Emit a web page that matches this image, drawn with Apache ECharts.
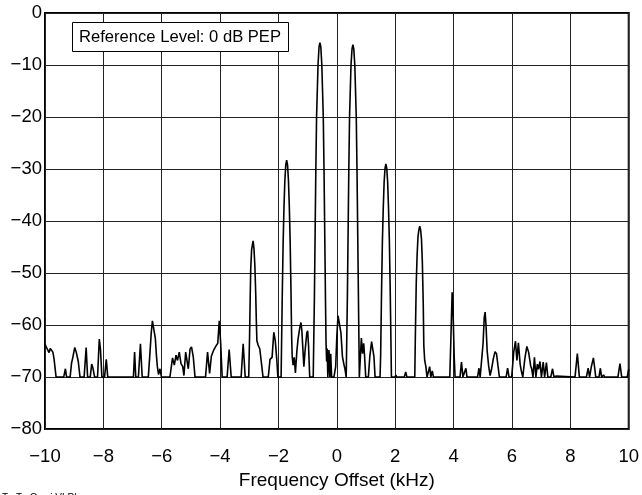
<!DOCTYPE html>
<html>
<head>
<meta charset="utf-8">
<script src="https://cdn.jsdelivr.net/npm/echarts@6/dist/echarts.min.js"></script>
<style>
html,body{margin:0;padding:0;background:#fff;}
#chart{width:642px;height:495px;}
</style>
</head>
<body>
<div id="chart"></div>
<script>
// Frequency offset (kHz) and level (dB) of the measured two-tone spectrum
const spectrumPoints = [
  [-10,-63.6],[-9.96,-64.2],[-9.92,-64],[-9.86,-65.3],[-9.82,-64.5],[-9.77,-64.6],[-9.73,-65.2],[-9.69,-66.5],[-9.62,-70],
  [-9.36,-70],[-9.30,-68.4],[-9.26,-70],
  [-9.14,-70],[-9.09,-67.3],[-9.05,-66.3],[-8.98,-64.3],[-8.93,-65.2],[-8.90,-65.5],[-8.86,-67],[-8.80,-70],
  [-8.66,-70],[-8.59,-64.3],[-8.54,-70],
  [-8.45,-70],[-8.40,-67.5],[-8.36,-68.2],[-8.30,-70],
  [-8.20,-70],[-8.14,-62.7],[-8.10,-64.6],[-8.05,-70],
  [-7.96,-70],[-7.90,-66.6],[-7.85,-70],
  [-6.97,-70],[-6.93,-65.2],[-6.89,-70],
  [-6.80,-70],[-6.73,-63.6],[-6.67,-70],
  [-6.46,-70],[-6.40,-65],[-6.36,-61.5],[-6.32,-59.2],[-6.29,-58.9],[-6.26,-59.5],[-6.22,-62.5],[-6.18,-66],[-6.15,-68],[-6.11,-69.5],[-6.06,-68.4],[-6.01,-70],
  [-5.72,-70],[-5.63,-66.3],[-5.57,-67.7],[-5.51,-65.8],[-5.46,-66.8],[-5.40,-65.2],[-5.34,-67.4],[-5.28,-68],[-5.24,-69.7],[-5.18,-65.2],[-5.13,-65.2],[-5.09,-68.4],[-5.03,-64.6],[-4.98,-64.2],[-4.92,-66.1],[-4.86,-70],
  [-4.50,-70],[-4.43,-65.2],[-4.36,-69.3],[-4.30,-66],[-4.22,-64.8],[-4.14,-64],[-4.08,-63.5],[-4.03,-59.2],[-3.98,-63.5],[-3.93,-70],
  [-3.76,-70],[-3.69,-64.7],[-3.62,-70],
  [-3.28,-70],[-3.21,-63.6],[-3.14,-70],
  [-3.02,-70],[-2.99,-62],[-2.97,-55],[-2.95,-49],[-2.92,-45.5],[-2.87,-43.8],[-2.84,-45.3],[-2.81,-48.5],[-2.78,-54],[-2.76,-59],[-2.74,-63],[-2.70,-63.8],[-2.64,-64.6],[-2.58,-67.5],[-2.53,-70],
  [-2.35,-70],[-2.29,-66.6],[-2.22,-66.2],[-2.16,-61.4],[-2.11,-63],[-2.06,-66.5],[-2.02,-70],
  [-1.91,-70],[-1.90,-66],[-1.87,-54],[-1.84,-44],[-1.81,-37],[-1.78,-32],[-1.75,-29.2],[-1.72,-28.3],[-1.69,-29.2],[-1.66,-32],[-1.63,-37],[-1.60,-44],[-1.57,-54],[-1.55,-62],[-1.53,-66],
  [-1.50,-67.7],[-1.46,-66.2],[-1.42,-69.2],[-1.37,-65],[-1.33,-62.7],[-1.27,-60.5],[-1.23,-59.5],[-1.20,-61],[-1.17,-64],[-1.13,-68],[-1.09,-65],[-1.03,-61.5],[-1.00,-61.1],[-0.97,-64],[-0.93,-70],
  [-0.81,-70],[-0.77,-55],[-0.74,-40],[-0.72,-30],[-0.695,-20],[-0.645,-10],[-0.61,-6.5],[-0.58,-5.7],[-0.55,-6.5],[-0.515,-10],[-0.465,-20],[-0.44,-30],[-0.42,-40],[-0.39,-55],
  [-0.37,-63.5],[-0.35,-67],[-0.33,-64.5],[-0.31,-70],[-0.27,-64.8],[-0.24,-70],[-0.21,-65.5],[-0.18,-70],
  [-0.10,-70],[-0.04,-68],[0.00,-62],[0.04,-58.2],[0.07,-57.9],[0.10,-58.5],[0.14,-61.5],[0.19,-66],[0.24,-67.5],[0.28,-68.5],[0.32,-70],
  [0.33,-70],[0.36,-55],[0.39,-40],[0.41,-30],[0.435,-20],[0.485,-10],[0.52,-6.9],[0.55,-6.1],[0.58,-6.9],[0.615,-10],[0.665,-20],[0.69,-30],[0.71,-40],[0.74,-55],[0.77,-70],
  [0.80,-70],[0.84,-62.5],[0.88,-65.5],[0.92,-63.5],[0.95,-66],[0.99,-70],
  [1.08,-70],[1.13,-66],[1.19,-63.2],[1.23,-63],[1.27,-66],[1.31,-70],
  [1.48,-70],[1.50,-66],[1.53,-54],[1.56,-44],[1.59,-37.5],[1.62,-32.5],[1.65,-29.9],[1.68,-29.0],[1.71,-29.9],[1.74,-32.5],[1.77,-37.5],[1.80,-44],[1.83,-54],[1.86,-66],[1.87,-70],
  [2.00,-70],[2.02,-69.6],[2.05,-70],[2.31,-70],[2.36,-69],[2.40,-70],
  [2.67,-70],[2.69,-62],[2.72,-52],[2.75,-46.5],[2.78,-43],[2.81,-41.7],[2.84,-41.0],[2.87,-41.7],[2.90,-43.5],[2.93,-48],[2.96,-56],[2.98,-64],[3.01,-66.8],[3.05,-68],[3.09,-70],
  [3.13,-70],[3.18,-68],[3.22,-70],[3.27,-68.8],[3.31,-70],
  [3.87,-70],[3.91,-62],[3.95,-53.7],[3.98,-57],[4.02,-66],[4.05,-70],
  [4.22,-70],[4.27,-67.1],[4.32,-70],[4.38,-70],[4.42,-68.3],[4.46,-70],
  [4.82,-70],[4.87,-68.3],[4.91,-70],[4.96,-70],[5.01,-63.5],[5.05,-58.5],[5.08,-57.5],[5.11,-60],[5.15,-65],[5.20,-67.8],[5.25,-69.7],[5.30,-68.5],[5.36,-66.5],[5.42,-65.1],[5.47,-65.5],[5.52,-67.8],[5.57,-70],
  [5.80,-70],[5.85,-68.3],[5.90,-70],
  [5.99,-70],[6.06,-65.2],[6.12,-63.1],[6.17,-66.8],[6.22,-63.4],[6.28,-67.5],[6.32,-68.8],[6.37,-70],[6.44,-66.5],[6.51,-64.1],[6.57,-65.2],[6.64,-67.8],[6.68,-68.5],
  [6.72,-70],[6.77,-66.2],[6.82,-70],[6.87,-67.5],[6.91,-68.5],[6.96,-67],[7.01,-70],[7.07,-67.1],[7.12,-70],[7.18,-67.2],[7.23,-70],[7.33,-70],[7.39,-68.4],[7.44,-70],[7.52,-69.8],[7.55,-70],
  [8.16,-70],[8.24,-65.5],[8.31,-70],
  [8.55,-70],[8.61,-68.3],[8.66,-70],[8.72,-68],[8.79,-66.3],[8.84,-68.5],[8.87,-70],[8.98,-70],[9.03,-68.3],[9.07,-70],[9.14,-69.6],[9.18,-70],
  [9.63,-70],[9.70,-67.4],[9.76,-70],[9.95,-70],[10,-68.5]
];

const xRange = { min: -10, max: 10, step: 2 };
const yRange = { min: -80, max: 0, step: 10 };
const xAxisTitle = 'Frequency Offset (kHz)';
const referenceNote = 'Reference Level: 0 dB PEP';
const footerNote = 'Tx Tx Osc i VLPl';

const minusFmt = v => String(v).replace('-', '\u2212');
const FONT = 'Liberation Sans, Arial, sans-serif';

const chart = echarts.init(document.getElementById('chart'), null, { renderer: 'canvas' });
chart.setOption({
  animation: false,
  backgroundColor: '#fff',
  textStyle: { fontFamily: FONT },
  grid: {
    left: 45, right: 13, top: 13, bottom: 64,
    show: true, borderColor: '#000', borderWidth: 2, backgroundColor: 'transparent'
  },
  title: {
    text: referenceNote,
    left: 72, top: 22,
    padding: [7, 8, 6, 7],
    borderColor: '#000', borderWidth: 1, backgroundColor: '#fff',
    textStyle: { fontSize: 16.6, fontWeight: 'normal', color: '#000', fontFamily: FONT }
  },
  graphic: [{
    type: 'text', left: 2, top: 493,
    style: { text: footerNote, fontSize: 10, fill: '#000', fontFamily: FONT }
  }],
  xAxis: {
    type: 'value', min: xRange.min, max: xRange.max, interval: xRange.step,
    name: xAxisTitle, nameLocation: 'middle', nameGap: 39,
    nameTextStyle: { fontSize: 19, color: '#000', fontFamily: FONT },
    axisLine: { show: false },
    axisTick: { show: false },
    axisLabel: { formatter: minusFmt, fontSize: 18.5, color: '#000', margin: 18, fontFamily: FONT },
    splitLine: { show: true, lineStyle: { color: '#222', width: 1 } }
  },
  yAxis: {
    type: 'value', min: yRange.min, max: yRange.max, interval: yRange.step,
    axisLine: { show: false },
    axisTick: { show: false },
    axisLabel: { formatter: minusFmt, fontSize: 18.5, color: '#000', margin: 3, fontFamily: FONT },
    splitLine: { show: true, lineStyle: { color: '#222', width: 1 } }
  },
  series: [{
    type: 'line',
    data: spectrumPoints,
    showSymbol: false,
    symbol: 'none',
    smooth: false,
    lineStyle: { color: '#000', width: 1.6 },
    z: 3
  }]
});
</script>
</body>
</html>
